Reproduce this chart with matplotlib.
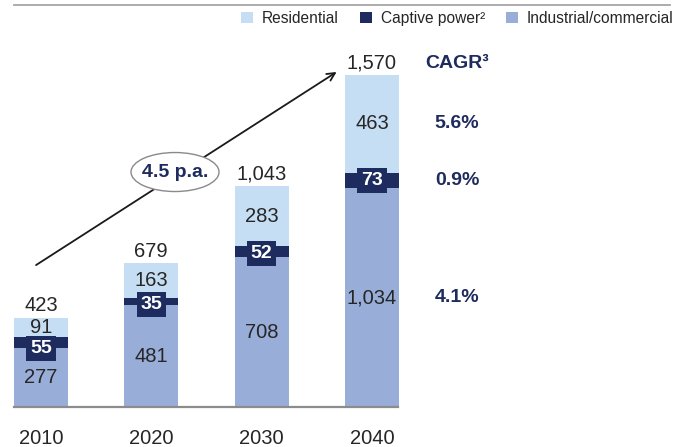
import matplotlib.pyplot as plt
import numpy as np
from matplotlib.lines import Line2D
from matplotlib.patches import Ellipse

plt.rcParams["font.family"] = ["Liberation Sans", "DejaVu Sans"]

years = ["2010", "2020", "2030", "2040"]
industrial = [277, 481, 708, 1034]
captive = [55, 35, 52, 73]
residential = [91, 163, 283, 463]
totals = [423, 679, 1043, 1570]
cagr_labels = ["5.6%", "0.9%", "4.1%"]
growth_label = "4.5 p.a."

LIGHT = "#C6DEF3"
NAVY = "#1E2B5E"
MID = "#98AED9"
TEXT = "#262626"
FS = 14.5
# downward nudge (points) of the captive-power label boxes, as in the source layout
cap_nudge = [4, 2, 1.5, 0]

fig = plt.figure(figsize=(6.88, 4.47), dpi=100)
# axes spans full width; pixel mapping: baseline at y=407px, 0.2115 px per unit
ax = fig.add_axes([0, 40 / 447, 1, 402 / 447])
ax.set_xlim(-41 / 110.3, (688 - 41) / 110.3)
ax.set_ylim(0, 402 / 0.2115)

x = np.arange(len(years))
ind = np.array(industrial)
cap = np.array(captive)
res = np.array(residential)

width = 0.49
b_ind = ax.bar(x, ind, width, color=MID, label="Industrial/commercial")
b_cap = ax.bar(x, cap, width, bottom=ind, color=NAVY, label="Captive power²")
b_res = ax.bar(x, res, width, bottom=ind + cap, color=LIGHT, label="Residential")

for xi, v in zip(x, ind):
    ax.text(xi, v / 2, f"{v:,}", ha="center", va="center", fontsize=FS, color=TEXT)
for xi, base, v, dy in zip(x, ind, cap, cap_nudge):
    ax.annotate(f"{v:,}", (xi, base + v / 2), xytext=(0, -dy), textcoords="offset points",
                ha="center", va="center", fontsize=14, color="white", fontweight="bold",
                bbox=dict(boxstyle="square,pad=0.2", fc=NAVY, ec="none"))
for xi, base, v in zip(x, ind + cap, res):
    ax.text(xi, base + v / 2, f"{v:,}", ha="center", va="center", fontsize=FS, color=TEXT)
for xi, t in zip(x, totals):
    ax.annotate(f"{t:,}", (xi, t), xytext=(0, 2), textcoords="offset points",
                ha="center", va="bottom", fontsize=FS, color=TEXT)

# CAGR column aligned with the last bar's segments
cx = (457 - 41) / 110.3
last = len(x) - 1
seg_mid = [ind[last] + cap[last] + res[last] / 2, ind[last] + cap[last] / 2, ind[last] / 2]
ax.annotate("CAGR³", (cx, totals[last]), xytext=(0, 2), textcoords="offset points",
            ha="center", va="bottom", fontsize=14, fontweight="bold", color=NAVY)
for y, lab in zip(seg_mid, cagr_labels):
    ax.text(cx, y, lab, ha="center", va="center", fontsize=14, fontweight="bold", color=NAVY)

# growth arrow with ellipse label
ax.annotate("", xy=(2.68, 1584), xytext=(-0.045, 671),
            arrowprops=dict(arrowstyle="->", color="#1a1a1a", lw=1.3,
                            shrinkA=0, shrinkB=0, mutation_scale=14))
ax.add_patch(Ellipse((1.215, 1111), 88 / 110.3, 39 / 0.2115, fc="white",
                     ec="#8a8a8a", lw=1, zorder=5))
ax.text(1.215, 1111, growth_label, ha="center", va="center", fontsize=14,
        fontweight="bold", color=NAVY, zorder=6)

ax.set_xticks(x)
ax.set_xticklabels(years, fontsize=FS, color=TEXT)
ax.tick_params(axis="x", length=0, pad=16)
ax.set_yticks([])
for side in ["top", "left", "right"]:
    ax.spines[side].set_visible(False)
ax.spines["bottom"].set_color("#8c8c8c")
ax.spines["bottom"].set_linewidth(1.6)
ax.spines["bottom"].set_bounds((14 - 41) / 110.3, (398 - 41) / 110.3)

fig.add_artist(Line2D([14 / 688, 670 / 688], [1 - 5 / 447, 1 - 5 / 447],
                      color="#a6a6a6", lw=1.3))

fig.legend(handles=[b_res, b_cap, b_ind], loc="upper left",
           bbox_to_anchor=(241 / 688, 1 - 11 / 447), ncol=3, frameon=False,
           fontsize=11.2, handlelength=0.75, handleheight=0.75, handletextpad=0.6,
           columnspacing=1.35, borderaxespad=0, borderpad=0, labelcolor=TEXT)

fig.savefig("out.png", dpi=100)
